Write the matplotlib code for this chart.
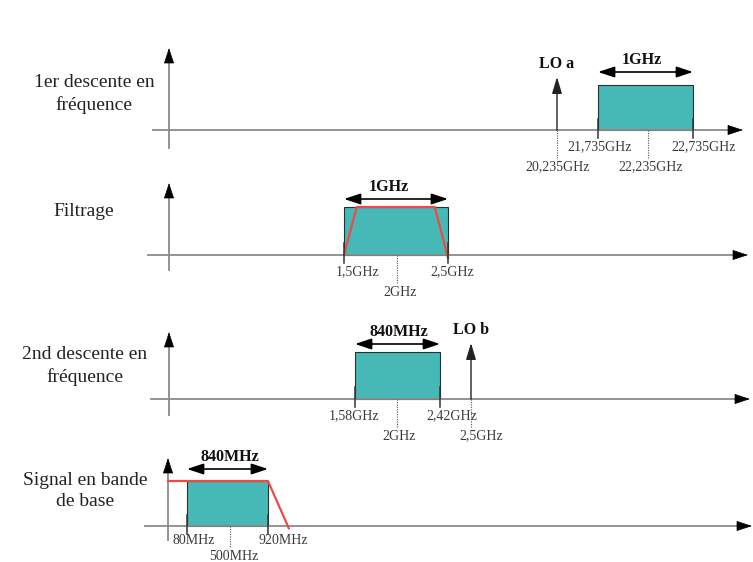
import numpy as np
import matplotlib.pyplot as plt

plt.rcParams['font.family'] = ['Liberation Serif', 'DejaVu Serif']

W, H = 753, 562

TEAL = '#46b9b6'
RED = '#ec4a46'
GREY = '#8a8a8a'
TXT = '#3a3a3a'

titles = ['1er descente en\nfréquence', 'Filtrage',
          '2nd descente en\nfréquence', 'Signal en bande\nde base']

# 1er descente (GHz)
p1_freqs = [20.235, 21.735, 22.235, 22.735]
p1_labels = ['20,235GHz', '21,735GHz', '22,235GHz', '22,735GHz']
p1_band = [21.735, 22.735]
p1_band_label = '1GHz'
p1_lo = 20.235
p1_lo_label = 'LO a'

# filtrage (GHz)
p2_freqs = [1.5, 2.0, 2.5]
p2_labels = ['1,5GHz', '2GHz', '2,5GHz']
p2_band = [1.5, 2.5]
p2_band_label = '1GHz'
p2_filter_f = [1.5, 1.62, 2.37, 2.5]
p2_filter_a = [0.0, 1.0, 1.0, -0.06]

# 2nd descente (GHz)
p3_freqs = [1.58, 2.0, 2.42, 2.5]
p3_labels = ['1,58GHz', '2GHz', '2,42GHz', '2,5GHz']
p3_band = [1.58, 2.42]
p3_band_label = '840MHz'
p3_lo = 2.5
p3_lo_label = 'LO b'

# bande de base (MHz)
p4_freqs = [80, 500, 920]
p4_labels = ['80MHz', '500MHz', '920MHz']
p4_band = [80, 920]
p4_band_label = '840MHz'
p4_filter_f = [0, 920, 1150]
p4_filter_a = [1.0, 1.0, -0.05]


fig = plt.figure(figsize=(W / 100, H / 100), dpi=100)


def make_axes(base, top, bottom, unit, fx, px):
    # one strip per panel, x = frequency on a schematic (piecewise) scale
    ax = fig.add_axes([0, 1 - bottom / H, 1, (bottom - top) / H])
    fx = np.asarray(fx, float)
    px = np.asarray(px, float)
    s0 = (px[1] - px[0]) / (fx[1] - fx[0])
    s1 = (px[-1] - px[-2]) / (fx[-1] - fx[-2])
    F = np.r_[fx[0] - (px[0] + 50) / s0, fx, fx[-1] + (W + 50 - px[-1]) / s1]
    P = np.r_[-50, px, W + 50]
    fwd = lambda f: np.interp(f, F, P)
    inv = lambda p: np.interp(p, P, F)
    ax.set_xscale('function', functions=(fwd, inv))
    ax.set_xlim(inv(0), inv(W))
    ax.set_ylim((base - bottom) / unit, (base - top) / unit)
    ax.axis('off')
    return ax


def head(ax, xy, dx, dy, trans):
    ax.annotate('', xy=xy, xycoords=trans, xytext=(dx, dy), textcoords='offset pixels',
                arrowprops=dict(arrowstyle='-|>,head_length=1.0,head_width=0.33',
                                color='k', lw=0.5, shrinkA=0, shrinkB=0, mutation_scale=10))


def frame(ax, x0, x1, ybot, ytop, unit):
    yt = ax.get_yaxis_transform()
    ax.plot([x0 / W, (x1 - 10) / W], [0, 0], color=GREY, lw=1.3, transform=yt)
    head(ax, (x1 / W, 0), -12, 0, yt)
    ax.plot([0, 0], [ybot, ytop - 10 / unit], color=GREY, lw=1.3)
    head(ax, (0, ytop), 0, -12, ax.transData)


def band(ax, lo, hi, label, ya, dx=0):
    ax.bar(lo, 1, width=hi - lo, align='edge', color=TEAL, edgecolor='#2e2e2e', lw=0.8)
    ax.annotate('', xy=(hi, ya), xytext=(lo, ya),
                arrowprops=dict(arrowstyle='<|-|>,head_length=1.0,head_width=0.33',
                                color='k', lw=1.2, shrinkA=0, shrinkB=0, mutation_scale=10))
    mid = np.mean(ax.transData.transform([(lo, 0), (hi, 0)])[:, 0])
    xm = ax.transData.inverted().transform((mid, 0))[0]
    ax.annotate(label, (xm, ya), xytext=(dx, 12), textcoords='offset pixels',
                ha='center', va='center', fontsize=11.5, fontweight='bold', color='#111')


def lo_arrow(ax, f, label, ya):
    ax.annotate('', xy=(f, ya), xytext=(f, 0),
                arrowprops=dict(arrowstyle='-|>,head_length=1.0,head_width=0.3',
                                color='#222', lw=1.0, shrinkA=0, shrinkB=0, mutation_scale=10))
    ax.annotate(label, (f, ya), xytext=(0, 13), textcoords='offset pixels',
                ha='center', va='center', fontsize=11.5, fontweight='bold', color='#111')


def freq_labels(ax, freqs, labels, rows, dxs, edges, dots, unit, r1=-17, r2=-37):
    for f, lab, r, dx in zip(freqs, labels, rows, dxs):
        dy = r1 if r == 1 else r2
        ax.annotate(lab, (f, 0), xytext=(dx, dy), textcoords='offset pixels',
                    ha='center', va='center', fontsize=10, color=TXT)
        if f in edges:
            ax.plot([f, f], [0.25, -8 / unit], color='#333', lw=1.1)
        if f in dots:
            ax.plot([f, f], [0, (r2 + 8) / unit], color='#555', lw=0.8, ls=(0, (1, 1.2)))


# panel 1
u = 45
ax1 = make_axes(130, 35, 180, u, [0] + p1_freqs, [169, 557, 598, 648, 693])
frame(ax1, 153, 743, -18 / u, 82 / u, u)
band(ax1, p1_band[0], p1_band[1], p1_band_label, 58 / u, dx=-4)
lo_arrow(ax1, p1_lo, p1_lo_label, 53 / u)
freq_labels(ax1, p1_freqs, p1_labels, [2, 1, 2, 1], [1, 2, 3, 11],
            p1_band, [p1_lo, 22.235], u)

# panel 2
u = 48
ax2 = make_axes(255, 175, 305, u, [0] + p2_freqs, [169, 344, 397, 448])
frame(ax2, 148, 748, -15 / u, 72 / u, u)
band(ax2, p2_band[0], p2_band[1], p2_band_label, 56 / u, dx=-7)
ax2.plot(p2_filter_f, p2_filter_a, color=RED, lw=1.6)
freq_labels(ax2, p2_freqs, p2_labels, [1, 2, 1], [14, 3, 4],
            p2_band, [2.0], u)

# panel 3
u = 47
ax3 = make_axes(399, 305, 450, u, [0] + p3_freqs, [169, 355, 397, 440, 471])
frame(ax3, 151, 750, -16 / u, 67 / u, u)
band(ax3, p3_band[0], p3_band[1], p3_band_label, 55 / u, dx=1)
lo_arrow(ax3, p3_lo, p3_lo_label, 56 / u)
freq_labels(ax3, p3_freqs, p3_labels, [1, 2, 1, 2], [-1, 2, 12, 10],
            p3_band, [2.0, p3_lo], u)

# panel 4
u = 45
ax4 = make_axes(526, 450, 562, u, [0] + p4_freqs, [168, 187, 230, 268])
frame(ax4, 145, 752, -14 / u, 68 / u, u)
band(ax4, p4_band[0], p4_band[1], p4_band_label, 57 / u, dx=2)
ax4.plot(p4_filter_f, p4_filter_a, color=RED, lw=1.6)
freq_labels(ax4, p4_freqs, p4_labels, [1, 2, 1], [7, 4, 15],
            p4_band, [500], u, r1=-14, r2=-30)

# titles on the left
for t, (x, y) in zip(titles, [(94, 94), (84, 212), (85, 366), (85, 491)]):
    fig.text(x / W, 1 - y / H, t, ha='center', va='center', fontsize=14,
             color='#222', linespacing=1.3)

fig.savefig('out.png', dpi=100)
